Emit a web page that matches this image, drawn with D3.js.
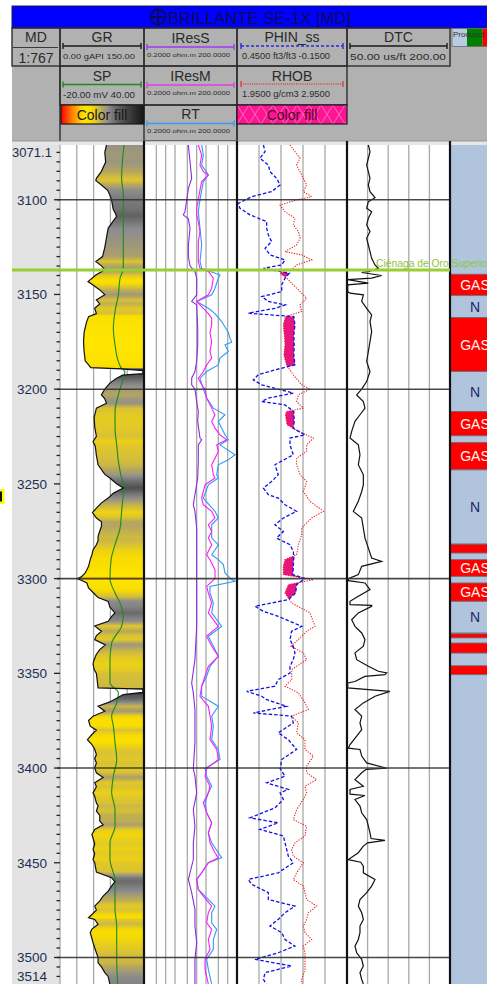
<!DOCTYPE html>
<html>
<head>
<meta charset="utf-8">
<script src="https://cdn.jsdelivr.net/npm/d3@7"></script>
<style>
  body { margin: 0; background: #fff; }
  svg { display: block; font-family: "Liberation Sans", Arial, sans-serif; }
</style>
</head>
<body>
<svg id="chart" width="487" height="984"></svg>
<script>
// ---- Well log data: [measured depth (m), value] ----
const grData = [
[3071.1,83],[3075,80],[3080.1,81.5],[3085,74],[3088.7,65],[3089.9,64],[3092.2,74],[3095,85],[3097.5,89],[3099.9,92],
[3105,95],[3107.2,99],[3108.9,101],[3110,98],[3115.1,86],[3120,83],[3125.1,80],[3130,76],[3132.6,64],[3134.9,74],
[3137,80],[3139.7,64],[3143.2,50],[3145,59],[3147.6,71],[3150.1,80],[3152.9,65],[3155,71],[3157.3,62],[3160.1,65],
[3161.7,51],[3165,47],[3170.1,43],[3175,42],[3180,43],[3185,45],[3187.2,51],[3188.6,55],[3189.3,110],[3190.2,148],
[3191.8,148],[3192.6,112],[3194.2,101],[3196.8,89],[3200,80],[3203,74],[3205.1,80],[3207.4,83],[3210,65],[3214.9,61],
[3220,62],[3224.9,65],[3227.6,59],[3230.1,63],[3235,65],[3239.9,68],[3245,80],[3246.9,89],[3249.9,101],[3252.2,113],
[3255,95],[3257.5,86],[3260,74],[3262.8,65],[3265.1,58],[3268,65],[3270,74],[3272.4,74],[3274.9,71],[3277.7,68],
[3280,68],[3282.1,65],[3284.9,59],[3287.4,57],[3290,54],[3293.5,51],[3297,45],[3299.1,38],[3300,31],[3301.1,40],
[3302.3,48],[3304.9,51],[3307.6,60],[3310,68],[3312,86],[3315,89],[3318.1,98],[3320.1,92],[3322.5,86],[3325,62],
[3327.8,74],[3330.1,65],[3332.2,62],[3335,81],[3337.5,71],[3339.9,65],[3342.8,61],[3345,59],[3348,61],[3350,65],
[3355.1,67],[3357.7,68],[3358.3,148],[3360.1,148],[3361.2,113],[3365.1,89],[3367.4,68],[3370,80],[3372.6,59],[3374.9,51],
[3377.9,54],[3380,65],[3382.3,57],[3385,49],[3387.6,57],[3390.1,62],[3392.9,65],[3395,62],[3397.3,65],[3399.9,62],
[3402.5,65],[3405,77],[3407.8,62],[3409.9,65],[3413.1,59],[3415,62],[3418.4,65],[3419.9,68],[3422.8,65],[3425,71],
[3428,71],[3430,77],[3432.4,62],[3435.1,57],[3440,62],[3443,59],[3445.1,62],[3448.3,59],[3450,62],[3454.9,65],
[3457.9,92],[3460,98],[3462.3,92],[3465,86],[3467.6,77],[3470.1,71],[3472.9,62],[3475,65],[3477.3,57],[3479,51],
[3479.9,62],[3482.5,68],[3485,57],[3486.9,54],[3490,57],[3492.2,59],[3495,62],[3497.5,65],[3500,68],[3502.8,68],
[3505,74],[3508,80],[3510,86],[3514,89]
];

const spData = [
[3071.1,25.7],[3088.7,24.0],[3097.5,25.2],[3115.1,25.2],[3136.2,25.2],[3141.4,22.9],[3150.2,21.7],[3159,19.3],
[3167.8,18.1],[3176.6,19.3],[3185.4,21.7],[3189,24],[3190.7,26.4],[3194.2,25.2],[3203,21.7],[3211.8,19.3],
[3220.6,19.3],[3229.4,20.5],[3238.1,21.7],[3246.9,24],[3251.3,25.7],[3255.7,25.2],[3264.5,24],[3273.3,22.9],
[3282.1,19.3],[3290,16.5],[3300,15.7],[3307.6,19.3],[3312.9,22.9],[3319.9,25.2],[3325.2,24],[3334,16.9],
[3342.8,15.7],[3355.1,15.7],[3360.3,21.7],[3365.6,20.5],[3372.6,16.9],[3377.9,18.1],[3386.7,19.3],[3395.5,20.5],
[3404.3,18.1],[3413.1,16.9],[3421.9,19.3],[3430.7,19.3],[3439.5,15.7],[3448.3,15.7],[3455.3,18.1],[3458.8,19.3],
[3465.8,19.3],[3474.6,19.3],[3483.4,20.5],[3492.2,20.5],[3501,20.5],[3514,21.2]
];

const iressData = [
[3071.1,5.4],[3079.9,6.1],[3088.7,6.9],[3094,5.4],[3099.9,4.8],[3106.3,4.2],[3108,3.7],[3110,5.4],[3115.1,6.1],
[3123.9,5.4],[3130,5.4],[3134.9,6.1],[3137.9,8.8],[3141.4,10],[3150.2,10],[3153.7,6.9],[3155.5,10],[3167.8,10.8],
[3176.6,10.8],[3185.4,10],[3190.7,8.8],[3194.2,6.9],[3197.7,6.9],[3200,8.8],[3206.5,10],[3211.8,11.3],[3217,10.8],
[3225.8,12.8],[3226.7,14.5],[3229.4,11.3],[3238.1,11.3],[3246.9,10.8],[3255.7,8.8],[3261,7.8],[3264.5,8.8],
[3273.3,10],[3282.1,10],[3290,10],[3307.6,10],[3325.2,10],[3342.8,8.8],[3355.1,6.9],[3360.3,7.8],[3369.1,8.8],
[3386.7,8.8],[3400.3,7.8],[3404.3,8.8],[3413.1,10],[3421.9,7.8],[3430.7,8.8],[3439.5,7.8],[3448.3,7.8],
[3458.8,5.4],[3465.8,6.9],[3474.6,8.8],[3483.4,8.8],[3492.2,10],[3501,8.8],[3514,8.8]
];

const iresmData = [
[3071.1,11.3],[3076.4,14.5],[3081.7,12.8],[3085.2,16.4],[3086.9,23.8],[3090.4,14.5],[3094.8,12.8],[3099.9,11.3],
[3104.5,10],[3108,10],[3111.5,11.3],[3116.8,12.8],[3122.1,11.3],[3127.4,11.3],[3132.6,11.3],[3136.2,12.8],
[3137.9,23.8],[3141.4,34.5],[3146.7,30.5],[3150.2,23.8],[3153.7,10],[3157.3,16.4],[3160.1,23.8],[3162.5,30.5],
[3166.1,30.5],[3170.1,26.9],[3175,30.5],[3180,26.9],[3183.6,30.5],[3187.2,21],[3190.7,16.4],[3194.2,11.3],
[3197.7,14.5],[3200,18.6],[3204.7,21],[3210,30.5],[3213.5,39],[3217,30.5],[3220.6,39],[3224.1,56.6],[3226.7,92.8],
[3229.4,44.2],[3232.9,50],[3236.4,39],[3239.9,30.5],[3245.2,34.5],[3246.9,39],[3250.5,18.6],[3254,16.4],
[3257.5,14.5],[3261,16.4],[3264.5,30.5],[3268,39],[3271.6,23.8],[3275.1,30.5],[3278.6,23.8],[3282.1,30.5],
[3287.4,21],[3290,26.9],[3295.3,39],[3300,39],[3304.1,21],[3307.6,23.8],[3312.9,30.5],[3318.1,23.8],[3325.2,50],
[3330.4,21],[3335.7,30.5],[3341,50],[3346.3,23.8],[3351.5,18.6],[3356.8,14.5],[3362.1,12.8],[3367.4,23.8],
[3372.6,26.9],[3377.9,30.5],[3385,26.9],[3390.2,44.2],[3395.5,50],[3400.3,21],[3404.3,18.6],[3409.6,26.9],
[3413.1,23.8],[3418.4,16.4],[3423.6,21],[3428.9,30.5],[3434.2,23.8],[3439.5,26.9],[3444.7,39],[3447.4,50],
[3450,23.8],[3455.3,14.5],[3458.8,10],[3464.1,11.3],[3467.6,16.4],[3472.9,30.5],[3476.4,23.8],[3481.7,21],
[3485.2,30.5],[3490.5,23.8],[3495.7,26.9],[3501,18.6],[3506.3,18.6],[3514,23.8]
];

const rtData = [
[3071.1,14.5],[3076.4,16.4],[3081.7,14.5],[3086.9,23.8],[3090.4,16.4],[3099.9,12.8],[3106.3,11.3],[3115.1,12.8],
[3123.9,14.5],[3132.6,12.8],[3136.2,14.5],[3139.7,56.6],[3141.4,50],[3146.7,39],[3150.2,30.5],[3153.7,10],
[3157.3,23.8],[3160.1,39],[3164.3,64],[3170.1,105],[3173.1,119],[3175.2,135],[3176.6,82],[3180.1,105],
[3183.6,56.6],[3187.2,50],[3190.7,21],[3194.2,12.8],[3200,16.4],[3204.7,21],[3210,34.5],[3213.5,82],[3217,50],
[3220.6,64],[3224.1,82],[3226.7,105],[3229.4,56.6],[3234.6,172],[3237.3,105],[3239.9,50],[3245.2,44.2],
[3246.9,50],[3250.5,23.8],[3257.5,16.4],[3264.5,39],[3268,50],[3271.6,30.5],[3278.6,30.5],[3282.1,50],
[3287.4,30.5],[3290,50],[3292.6,72.5],[3297,82],[3300.5,135],[3301.4,172],[3304.1,26.9],[3307.6,26.9],
[3312.9,34.5],[3318.1,30.5],[3325.2,64],[3330.4,23.8],[3335.7,34.5],[3341,50],[3346.3,26.9],[3351.5,21],
[3356.8,14.5],[3362.1,14.5],[3367.4,50],[3372.6,30.5],[3377.9,34.5],[3385,30.5],[3390.2,50],[3395.5,56.6],
[3400.3,18.6],[3404.3,21],[3409.6,30.5],[3413.1,23.8],[3418.4,18.6],[3423.6,21],[3428.9,30.5],[3434.2,23.8],
[3439.5,30.5],[3444.7,50],[3447.4,64],[3450,23.8],[3455.3,14.5],[3458.8,10],[3464.1,11.3],[3467.6,18.6],
[3472.9,39],[3476.4,30.5],[3481.7,30.5],[3485.2,44.2],[3490.5,34.5],[3495.7,34.5],[3501,21],[3506.3,23.8],
[3514,30.5]
];

const phinData = [
[3071.1,0.306],[3074.6,0.297],[3078.1,0.325],[3081.7,0.279],[3085.2,0.270],[3088.7,0.234],[3092.2,0.215],
[3095.7,0.261],[3098.4,0.370],[3101.9,0.443],[3104.5,0.434],[3108,0.379],[3111.5,0.288],[3115.1,0.288],
[3118.6,0.279],[3122.1,0.261],[3125.6,0.297],[3129.1,0.270],[3131.8,0.188],[3134.4,0.206],[3136.2,0.306],
[3138.8,0.165],[3141.4,0.188],[3144.9,0.206],[3148.5,0.206],[3151.1,0.315],[3153.7,0.279],[3155.5,0.188],
[3157.3,0.243],[3159.9,0.388],[3161.7,0.140],[3166.1,0.134],[3171.3,0.140],[3176.6,0.138],[3181.9,0.140],
[3187.2,0.134],[3189.8,0.243],[3192.4,0.334],[3195.1,0.361],[3197.7,0.315],[3200,0.225],[3202.1,0.143],
[3204.7,0.279],[3206.5,0.315],[3208.3,0.188],[3211.8,0.140],[3217,0.138],[3220.6,0.143],[3224.1,0.079],
[3225.8,0.161],[3229.4,0.161],[3234.6,0.143],[3239.9,0.243],[3245.2,0.225],[3248.7,0.261],[3252.2,0.306],
[3255.7,0.279],[3257.5,0.225],[3261,0.188],[3264.5,0.125],[3268,0.197],[3271.6,0.243],[3275.1,0.197],
[3278.6,0.234],[3282.1,0.161],[3285.6,0.143],[3289.1,0.140],[3293.5,0.143],[3297.9,0.145],[3300,0.079],
[3303.2,0.125],[3307.6,0.130],[3311.1,0.170],[3314.6,0.352],[3317.3,0.306],[3319.9,0.225],[3325.2,0.097],
[3327.8,0.152],[3332.2,0.161],[3335.7,0.143],[3339.2,0.134],[3342.8,0.143],[3346.3,0.161],[3349.8,0.161],
[3353.3,0.225],[3356.8,0.243],[3359.5,0.397],[3362.1,0.315],[3363.9,0.288],[3367.4,0.179],[3370.9,0.361],
[3372.6,0.152],[3376.2,0.143],[3381.4,0.225],[3385,0.170],[3390.2,0.125],[3395.5,0.206],[3400.3,0.215],
[3404.3,0.188],[3407.8,0.288],[3411.3,0.170],[3413.1,0.215],[3416.6,0.197],[3421,0.243],[3426.3,0.379],
[3428.9,0.225],[3432.4,0.325],[3435.9,0.197],[3439.5,0.188],[3443,0.179],[3446.5,0.170],[3450,0.143],
[3455.3,0.225],[3458.8,0.388],[3461.4,0.370],[3465.8,0.279],[3469.4,0.279],[3472.9,0.134],[3476.4,0.188],
[3479.9,0.225],[3483.4,0.270],[3486.9,0.206],[3490.5,0.188],[3494,0.134],[3497.5,0.225],[3501,0.352],
[3504.5,0.152],[3508,0.297],[3511.6,0.306],[3514,0.290]
];

const rhobData = [
[3071.1,2.432],[3074.6,2.477],[3078.1,2.523],[3081.7,2.492],[3085.2,2.523],[3088.7,2.553],[3092.2,2.583],
[3095.7,2.553],[3098.4,2.629],[3100.1,2.492],[3102.8,2.341],[3106.3,2.386],[3109.8,2.477],[3113.3,2.462],
[3116.8,2.508],[3120.3,2.523],[3123.9,2.492],[3127.4,2.386],[3129.1,2.538],[3131.8,2.629],[3134.4,2.492],
[3136.2,2.462],[3138.8,2.341],[3141.4,2.402],[3144.9,2.462],[3148.5,2.523],[3152,2.583],[3155.5,2.523],
[3159,2.538],[3161.7,2.390],[3166.1,2.371],[3171.3,2.380],[3176.6,2.386],[3181.9,2.376],[3187.2,2.400],
[3192.4,2.462],[3197.7,2.538],[3200,2.614],[3203,2.508],[3206.5,2.492],[3210,2.553],[3211.8,2.400],
[3213.5,2.390],[3218.8,2.405],[3222.3,2.508],[3225.8,2.644],[3229.4,2.583],[3232.9,2.583],[3236.4,2.492],
[3239.9,2.492],[3245.2,2.523],[3248.7,2.583],[3254,2.553],[3259.2,2.614],[3264.5,2.735],[3268,2.629],
[3273.3,2.538],[3276.8,2.538],[3282.1,2.508],[3287.4,2.492],[3290,2.386],[3293.5,2.371],[3297.9,2.371],
[3300.5,2.644],[3303.2,2.417],[3307.6,2.386],[3312.9,2.447],[3318.1,2.614],[3325.2,2.659],[3327.8,2.583],
[3332.2,2.508],[3335.7,2.440],[3339.2,2.553],[3342.8,2.583],[3348,2.447],[3353.3,2.447],[3356.8,2.386],
[3360.3,2.508],[3365.6,2.568],[3369.1,2.598],[3372.6,2.447],[3376.2,2.508],[3381.4,2.492],[3385,2.568],
[3390.2,2.568],[3393.7,2.644],[3399,2.583],[3402.5,2.583],[3406.1,2.674],[3409.6,2.568],[3413.1,2.583],
[3416.6,2.553],[3421.9,2.492],[3427.2,2.462],[3430.7,2.583],[3435.9,2.568],[3439.5,2.477],[3443,2.447],
[3446.5,2.462],[3450,2.553],[3455.3,2.492],[3458.8,2.462],[3462.3,2.553],[3465.8,2.568],[3469.4,2.583],
[3472.9,2.674],[3476.4,2.598],[3479.9,2.583],[3483.4,2.553],[3486.9,2.568],[3490.5,2.629],[3494,2.553],
[3497.5,2.568],[3501,2.568],[3506.3,2.568],[3511.6,2.538],[3514,2.540]
];

const dtcData = [
[3071.1,81.1],[3074.6,83.5],[3078.1,81.1],[3081.7,78.6],[3085.2,81.1],[3088.7,83.5],[3092.2,81.1],[3095.7,83.5],
[3098.9,90.8],[3101,81.1],[3104.5,78.6],[3106.3,85.9],[3109.8,81.1],[3113.3,78.6],[3116.8,83.5],[3120.3,78.6],
[3123.9,81.1],[3127.4,83.5],[3130.9,85.9],[3134.4,90.8],[3136.2,95.6],[3137.9,81.1],[3138.4,71.4],[3140,100.5],
[3141.4,85.9],[3142.2,51],[3144,81],[3144.9,51],[3148.5,51],[3149.3,54.4],[3150.2,73.8],[3153.7,71.4],
[3157.3,78.6],[3160.8,85.9],[3164.3,83.5],[3169.6,85.9],[3174.9,83.5],[3180.1,81.1],[3185.4,78.6],[3190.7,83.5],
[3196,78.6],[3200,71.4],[3203,64.1],[3206.5,73.8],[3210,76.2],[3213.5,68.9],[3217,61.6],[3222.3,56.8],
[3225.8,54.4],[3229.4,66.5],[3234.6,68.9],[3239.9,66.5],[3245.2,73.8],[3250.5,73.8],[3254,71.4],[3259.2,66.5],
[3264.5,59.2],[3268,71.4],[3273.3,73.8],[3278.6,76.2],[3283.9,81.1],[3289.1,85.9],[3290.9,100.5],[3293.5,71.4],
[3297.9,66.5],[3300,51.9],[3301.1,51.9],[3302.3,76.2],[3305.8,83.5],[3309.3,66.5],[3312,54.4],[3313.7,54.4],
[3314.1,85.9],[3314.6,85.9],[3318.1,66.5],[3321.7,56.8],[3325.2,61.6],[3328.7,71.4],[3332.2,76.2],[3335.7,73.8],
[3339.2,61.6],[3342.8,64.1],[3346.3,81.1],[3348.9,95.6],[3349.8,107.8],[3350.7,105.3],[3351.6,76],[3354.3,61.6],
[3355.1,51],[3357.7,51],[3359.5,112.6],[3362.1,90.8],[3365.6,73.8],[3369.1,61.6],[3372.6,71.4],[3376.2,68.9],
[3379.7,71.4],[3383.2,64.1],[3387.6,54.4],[3389.5,51.9],[3390.2,68.9],[3393.7,71.4],[3397.3,78.6],[3400.1,107.8],
[3400.7,78],[3402.5,71.4],[3406.1,61.6],[3409.6,73.8],[3411.3,54.4],[3413.8,54.4],[3414.5,76],[3416.6,61.6],
[3420.1,68.9],[3423.6,71.4],[3427.2,78.6],[3430.7,81.1],[3434.2,83.5],[3437.2,85],[3438.2,105.3],[3439.5,80],
[3441.2,73.8],[3444.7,66.5],[3448.3,51.9],[3449.7,70],[3451.8,73.8],[3455.3,73.8],[3458.8,90.8],[3462.3,85.9],
[3465.8,78.6],[3469.4,68.9],[3472.9,66.5],[3476.4,71.4],[3479.9,73.8],[3483.4,68.9],[3486.9,68.9],[3490.5,66.5],
[3494,61.6],[3497.5,64.1],[3501,71.4],[3504.5,73.8],[3508,68.9],[3511.6,71.4],[3514,73.8]
];

// Production intervals: [top, base, fluid]
const prodZones = [
[3139.3,3150.6,"GAS"],[3150.6,3162.2,"N"],[3162.2,3190.7,"GAS"],[3190.7,3211.8,"N"],[3211.8,3224.6,"GAS"],
[3228.1,3242.6,"GAS"],[3242.6,3281.8,"N"],[3281.8,3286.5,"GAS"],[3290,3298.8,"GAS"],[3302.3,3312,"GAS"],
[3312,3328.7,"N"],[3329.1,3331.3,"GAS"],[3334,3339.3,"GAS"],[3346,3350.7,"GAS"]
];

const formationTops = [[3137.05, "Ciénaga de Oro Superior"]];
const mdLabels = [3100, 3150, 3200, 3250, 3300, 3350, 3400, 3450, 3500];
const depthTop = 3071.1, depthBase = 3514;

// ---- Layout ----
const svg = d3.select("#chart");
const defs = svg.append("defs");
const plotTop = 141, plotBottom = 984;
const T = { md:[12,60], gr:[60,144], res:[144,237], por:[237,347], dtc:[347,450], prod:[450,487] };

const y = d3.scaleLinear().domain([depthTop, depthBase]).range([145, 984]);
const xGR = d3.scaleLinear().domain([0,150]).range(T.gr);
const xSP = d3.scaleLinear().domain([-20,40]).range(T.gr);
const xRes = d3.scaleLog().domain([0.2,200]).range(T.res);
const xPhin = d3.scaleLinear().domain([0.45,-0.15]).range(T.por);
const xRhob = d3.scaleLinear().domain([1.95,2.95]).range(T.por);
const xDtc = d3.scaleLinear().domain([50,200]).range(T.dtc);

const grColor = d3.scaleLinear()
  .domain([0, 20, 40, 55, 64, 74, 85, 100, 125, 150])
  .range(["#ff0000","#ff8000","#ffe600","#f8dc00","#dcc430","#b4a660","#8e8e8e","#646464","#3c3c3c","#141414"]);

// clip paths for each track (production column is wider than the page and gets cut at its edge)
Object.entries(T).forEach(([k, [x0, x1]]) => {
  defs.append("clipPath").attr("id", "clip-" + k)
    .append("rect").attr("x", x0).attr("y", plotTop).attr("width", x1 - x0).attr("height", plotBottom - plotTop);
});

// ---- Header ----
svg.append("rect").attr("x", 12).attr("y", 27).attr("width", 475).attr("height", 114).attr("fill", "#b1b1b1");
svg.append("rect").attr("x", 12).attr("y", 6).attr("width", 475).attr("height", 22)
  .attr("fill", "#0000ff").attr("stroke", "#202040").attr("stroke-width", 1);
// title with circled-cross well symbol
const tg = svg.append("g").attr("stroke", "#0b0b55").attr("stroke-width", 2).attr("fill", "none");
tg.append("circle").attr("cx", 158).attr("cy", 17).attr("r", 7.5);
tg.append("line").attr("x1", 150.5).attr("x2", 165.5).attr("y1", 17).attr("y2", 17);
tg.append("line").attr("x1", 158).attr("x2", 158).attr("y1", 9.5).attr("y2", 24.5);
svg.append("text").attr("x", 168).attr("y", 24).attr("font-size", 17).attr("fill", "#0b0b55")
  .attr("textLength", 183).attr("lengthAdjust", "spacingAndGlyphs").text("BRILLANTE SE-1X [MD]");

const cellStroke = "#2e2e2e";
function cell(x0, y0, x1, y1) {
  svg.append("rect").attr("x", x0).attr("y", y0).attr("width", x1 - x0).attr("height", y1 - y0)
    .attr("fill", "none").attr("stroke", cellStroke).attr("stroke-width", 1.4);
}
cell(12, 28, 60, 66);
cell(60, 28, 144, 66); cell(60, 66, 144, 105);
cell(144, 28, 237, 66); cell(144, 66, 237, 105); cell(144, 105, 237, 141);
cell(237, 28, 347, 66); cell(237, 66, 347, 105);
cell(347, 28, 450, 66);
svg.append("line").attr("x1", 60).attr("x2", 60).attr("y1", 66).attr("y2", 141).attr("stroke", cellStroke).attr("stroke-width", 1.4);
svg.append("line").attr("x1", 237).attr("x2", 237).attr("y1", 105).attr("y2", 141).attr("stroke", cellStroke).attr("stroke-width", 1.4);

function htext(x, yy, s, size, opts = {}) {
  const t = svg.append("text").attr("x", x).attr("y", yy).attr("font-size", size)
    .attr("fill", opts.fill || "#2a2a2a").attr("text-anchor", opts.anchor || "middle").text(s);
  if (opts.len) t.attr("textLength", opts.len).attr("lengthAdjust", "spacingAndGlyphs");
  return t;
}
// MD cell
htext(36, 42, "MD", 14);
svg.append("line").attr("x1", 13).attr("x2", 58).attr("y1", 47.5).attr("y2", 47.5).attr("stroke", "#3a3a3a").attr("stroke-width", 1.2);
htext(36, 62.5, "1:767", 14);

function scaleBar(x0, x1, yy, color, dash, width) {
  const g = svg.append("g").attr("stroke", color).attr("stroke-width", width || 1.6);
  const l = g.append("line").attr("x1", x0).attr("x2", x1).attr("y1", yy).attr("y2", yy);
  if (dash) l.attr("stroke-dasharray", dash);
  g.append("line").attr("x1", x0).attr("x2", x0).attr("y1", yy - 3).attr("y2", yy + 3).attr("stroke-width", 1.4);
  g.append("line").attr("x1", x1).attr("x2", x1).attr("y1", yy - 3).attr("y2", yy + 3).attr("stroke-width", 1.4);
}
// GR column
htext(102, 42, "GR", 14);
scaleBar(63, 141, 46, "#1a1a1a");
htext(63, 59, "0.00 gAPI 150.00", 7.2, { anchor: "start", len: 72 });
htext(102, 81, "SP", 14);
scaleBar(63, 141, 84.5, "#1f8a1f");
htext(63, 97.5, "-20.00 mV 40.00", 8.6, { anchor: "start", len: 72 });
const lg = defs.append("linearGradient").attr("id", "grLegend").attr("x1", 0).attr("x2", 1).attr("y1", 0).attr("y2", 0);
d3.range(0, 1.0001, 0.05).forEach(t => lg.append("stop").attr("offset", t).attr("stop-color", grColor(t * 150)));
svg.append("rect").attr("x", 61).attr("y", 105).attr("width", 83).attr("height", 19)
  .attr("fill", "url(#grLegend)").attr("stroke", "#1a1a1a").attr("stroke-width", 1.2);
htext(102, 120, "Color fill", 14, { fill: "#1a1a1a" });

// Resistivity column
const resHead = [["IResS", "#9b3cf0", 42.5, 47, 56.8], ["IResM", "#e63ce6", 81, 85, 95], ["RT", "#3a9bf0", 119, 123.5, 133]];
resHead.forEach(([name, col, ty, ly, sy]) => {
  htext(190.5, ty, name, 14);
  scaleBar(147, 234, ly, col);
  htext(147, sy, "0.2000 ohm.m 200.0000", 5.8, { anchor: "start", len: 83 });
});

// Porosity column
htext(292, 42, "PHIN_ss", 14);
scaleBar(241, 343, 46, "#2a2ae0", "3,2");
htext(242, 59, "0.4500 ft3/ft3 -0.1500", 8.2, { anchor: "start", len: 88 });
htext(292, 81, "RHOB", 14);
scaleBar(241, 343, 84, "#e04040", "1,1.2");
htext(242, 97, "1.9500 g/cm3 2.9500", 8.6, { anchor: "start", len: 88 });
const pat = defs.append("pattern").attr("id", "xhatch").attr("patternUnits", "userSpaceOnUse")
  .attr("width", 12).attr("height", 19).attr("x", 237).attr("y", 105);
pat.append("rect").attr("width", 12).attr("height", 19).attr("fill", "#ff1493");
pat.append("path").attr("d", "M0,0L12,19M12,0L0,19").attr("stroke", "#ff7cc8").attr("stroke-width", 0.8);
svg.append("rect").attr("x", 237).attr("y", 105).attr("width", 110).attr("height", 19)
  .attr("fill", "url(#xhatch)").attr("stroke", "#1a1a1a").attr("stroke-width", 1.2);
htext(292, 120, "Color fill", 14, { fill: "#4a0a2a" });

// Sonic column
htext(398.5, 42, "DTC", 14);
scaleBar(350, 447, 46, "#1a1a1a");
htext(350, 60, "50.00 us/ft 200.00", 9.6, { anchor: "start", len: 96 });

// Production column header swatch
svg.append("rect").attr("x", 452).attr("y", 28.5).attr("width", 15).attr("height", 18).attr("fill", "#b8cce4");
svg.append("rect").attr("x", 467).attr("y", 28.5).attr("width", 15.5).attr("height", 18).attr("fill", "#008000");
svg.append("rect").attr("x", 482.5).attr("y", 28.5).attr("width", 6).attr("height", 18).attr("fill", "#ff0000");
svg.append("rect").attr("x", 452).attr("y", 28.5).attr("width", 36).attr("height", 18).attr("fill", "none").attr("stroke", "#6a6a6a").attr("stroke-width", 0.8);
htext(453, 36.5, "Producci", 6.6, { anchor: "start", fill: "#303030", len: 31 });

// strip between header and plot
svg.append("rect").attr("x", 12).attr("y", 141).attr("width", 475).attr("height", 4).attr("fill", "#e6e6e6");
svg.append("line").attr("x1", 12).attr("x2", 487).attr("y1", 141).attr("y2", 141).attr("stroke", "#8a8a8a").attr("stroke-width", 0.8);

// ---- Plot backgrounds ----
svg.append("rect").attr("x", T.md[0]).attr("y", 145).attr("width", T.md[1] - T.md[0]).attr("height", plotBottom - 145).attr("fill", "#e3e3e3");
svg.append("rect").attr("x", 60).attr("y", 145).attr("width", 390).attr("height", plotBottom - 145).attr("fill", "#ffffff");
svg.append("rect").attr("x", 450).attr("y", 145).attr("width", 37).attr("height", plotBottom - 145).attr("fill", "#b0c4de");

// vertical grid
const gridG = svg.append("g").attr("stroke", "#a9a9a9").attr("stroke-width", 1.3);
const vlines = [60]
  .concat(d3.range(1, 5).map(i => xGR(i * 30)))
  .concat([0.5, 1, 2, 5, 10, 20, 50, 100].map(v => xRes(v)))
  .concat(d3.range(1, 5).map(i => xPhin(0.45 - i * 0.12)))
  .concat(d3.range(1, 5).map(i => xDtc(50 + i * 30)));
vlines.forEach(x => gridG.append("line").attr("x1", x).attr("x2", x).attr("y1", 145).attr("y2", plotBottom));

// ---- GR track: colour-filled shale/sand curve ----
const sampleDepths = d3.range(depthTop, depthBase + 0.001, 0.5);
const grAt = d3.scaleLinear().domain(grData.map(d => d[0])).range(grData.map(d => d[1])).clamp(true);
const grGrad = defs.append("linearGradient").attr("id", "grFill").attr("gradientUnits", "userSpaceOnUse")
  .attr("x1", 0).attr("x2", 0).attr("y1", y(depthTop)).attr("y2", y(depthBase));
sampleDepths.forEach(d => grGrad.append("stop")
  .attr("offset", (d - depthTop) / (depthBase - depthTop)).attr("stop-color", grColor(grAt(d))));

const grTrack = svg.append("g").attr("clip-path", "url(#clip-gr)");
grTrack.append("path").datum(grData)
  .attr("d", d3.area().y(d => y(d[0])).x0(d => xGR(d[1])).x1(T.gr[1]))
  .attr("fill", "url(#grFill)");
grTrack.append("path").datum(spData)
  .attr("d", d3.line().y(d => y(d[0])).x(d => xSP(d[1])).curve(d3.curveMonotoneY))
  .attr("fill", "none").attr("stroke", "#1d8a1d").attr("stroke-width", 1.1);
grTrack.append("path").datum(grData)
  .attr("d", d3.line().y(d => y(d[0])).x(d => xGR(d[1])))
  .attr("fill", "none").attr("stroke", "#111").attr("stroke-width", 1.2);

// ---- Resistivity track ----
const resTrack = svg.append("g").attr("clip-path", "url(#clip-res)");
[[rtData, "#2a9df4"], [iresmData, "#ff1aff"], [iressData, "#8a2be2"]].forEach(([data, col]) => {
  resTrack.append("path").datum(data)
    .attr("d", d3.line().y(d => y(d[0])).x(d => xRes(d[1])))
    .attr("fill", "none").attr("stroke", col).attr("stroke-width", 1.1);
});

// ---- Porosity / density track with crossover fill ----
const porTrack = svg.append("g").attr("clip-path", "url(#clip-por)");
const phinAt = d3.scaleLinear().domain(phinData.map(d => d[0])).range(phinData.map(d => d[1])).clamp(true);
const rhobAt = d3.scaleLinear().domain(rhobData.map(d => d[0])).range(rhobData.map(d => d[1])).clamp(true);
const fineDepths = d3.range(depthTop, depthBase + 0.001, 0.2);
porTrack.append("path").datum(fineDepths)
  .attr("d", d3.area().y(d => y(d))
    .x0(d => xRhob(rhobAt(d)))
    .x1(d => Math.max(xRhob(rhobAt(d)), xPhin(phinAt(d)))))
  .attr("fill", "#e8157f");
porTrack.append("path").datum(rhobData)
  .attr("d", d3.line().y(d => y(d[0])).x(d => xRhob(d[1])))
  .attr("fill", "none").attr("stroke", "#f01818").attr("stroke-width", 1.1).attr("stroke-dasharray", "1.2,1.4");
porTrack.append("path").datum(phinData)
  .attr("d", d3.line().y(d => y(d[0])).x(d => xPhin(d[1])))
  .attr("fill", "none").attr("stroke", "#1010e8").attr("stroke-width", 1.3).attr("stroke-dasharray", "3.5,2");

// ---- Sonic track ----
svg.append("g").attr("clip-path", "url(#clip-dtc)").append("path").datum(dtcData)
  .attr("d", d3.line().y(d => y(d[0])).x(d => xDtc(d[1])))
  .attr("fill", "none").attr("stroke", "#111").attr("stroke-width", 1.2);

// ---- Production column ----
const prodG = svg.append("g").attr("clip-path", "url(#clip-prod)");
prodZones.forEach(([top, base, fluid]) => {
  const y0 = y(top), y1 = y(base);
  prodG.append("rect").attr("x", 450).attr("y", y0).attr("width", 50).attr("height", y1 - y0)
    .attr("fill", fluid === "GAS" ? "#ff0000" : "#b0c4de").attr("stroke", "#6e6e7a").attr("stroke-width", 0.9);
  if (y1 - y0 > 14) {
    prodG.append("text").attr("x", 475).attr("y", (y0 + y1) / 2 + 5).attr("text-anchor", "middle")
      .attr("font-size", 14).attr("fill", fluid === "GAS" ? "#fff2f2" : "#262664").text(fluid);
  }
});

// ---- Depth grid, ticks and labels ----
const hG = svg.append("g");
d3.range(3100, 3501, 100).forEach(d => {
  hG.append("line").attr("x1", 57).attr("x2", 450).attr("y1", y(d)).attr("y2", y(d))
    .attr("stroke", "#333").attr("stroke-width", 1.6).attr("stroke-opacity", 0.9);
});
d3.range(3075, 3514, 5).forEach(d => {
  const major = d % 50 === 0;
  hG.append("line").attr("x1", major ? 54 : 56.5).attr("x2", 60).attr("y1", y(d)).attr("y2", y(d))
    .attr("stroke", "#222").attr("stroke-width", 1.3);
});
const lblG = svg.append("g").attr("font-size", 13.5).attr("fill", "#1f2d52").attr("text-anchor", "middle");
mdLabels.forEach(d => lblG.append("text").attr("x", 32).attr("y", y(d) + 5).text(d));
lblG.append("text").attr("x", 32).attr("y", y(3075) + 4.5).attr("font-size", 13).text("3071.1");
lblG.append("text").attr("x", 32).attr("y", y(3510) + 5).text("3514");

// ---- Track borders ----
[144, 237, 347, 450].forEach(x => svg.append("line").attr("x1", x).attr("x2", x).attr("y1", 141).attr("y2", plotBottom)
  .attr("stroke", "#111").attr("stroke-width", 2.2));

// ---- Formation top ----
formationTops.forEach(([d, name]) => {
  svg.append("line").attr("x1", 12).attr("x2", 450).attr("y1", y(d)).attr("y2", y(d))
    .attr("stroke", "#9acd32").attr("stroke-width", 3);
  svg.append("text").attr("x", 376).attr("y", y(d) - 3).attr("font-size", 10.3).attr("fill", "#8cc63c")
    .text(name);
});

// small marker at the left margin
svg.append("rect").attr("x", 0).attr("y", 489).attr("width", 4.5).attr("height", 15).attr("fill", "#ffff00");
svg.append("rect").attr("x", 0).attr("y", 491.5).attr("width", 2).attr("height", 10).attr("fill", "#111");
</script>
</body>
</html>
